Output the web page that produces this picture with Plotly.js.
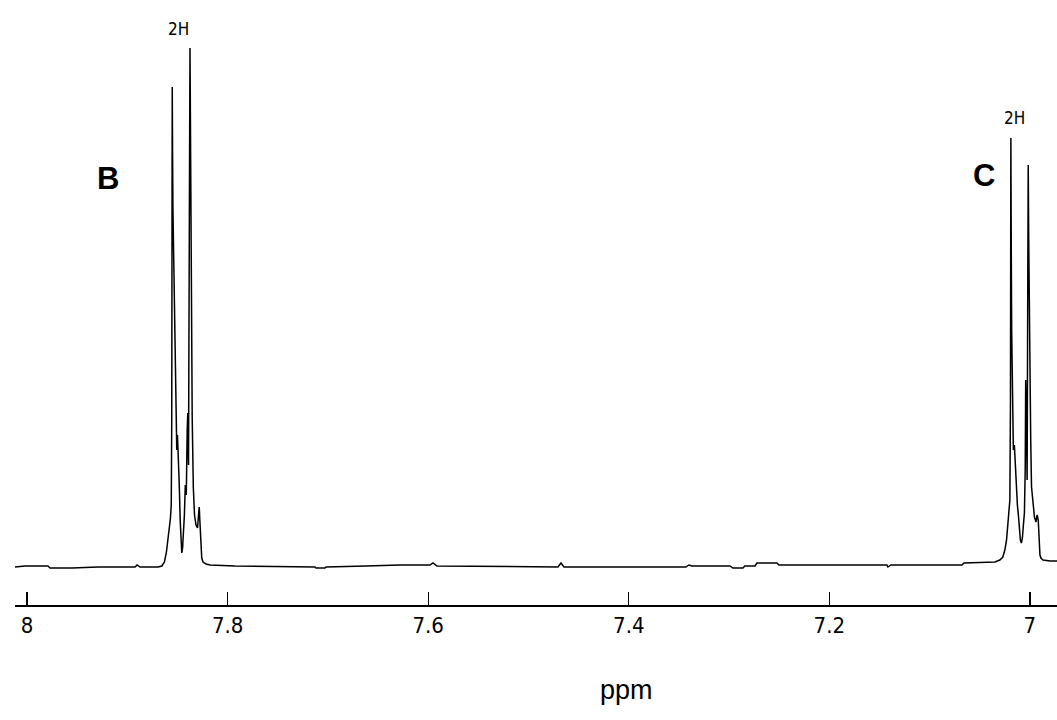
<!DOCTYPE html>
<html>
<head>
<meta charset="utf-8">
<script src="https://cdn.plot.ly/plotly-3.0.1.min.js"></script>
<style>html,body{margin:0;padding:0;background:#fff;}#chart{width:1057px;height:720px;}</style>
</head>
<body>
<div id="chart"></div>
<script>
// chemical shift (ppm) of traced spectrum points
const ppm = [
  8.0120, 8.0020, 7.9791, 7.9771, 7.9551, 7.9292, 7.8923, 7.8903, 7.8873, 7.8694,
  7.8655, 7.8630, 7.8610, 7.8595, 7.8580, 7.8570, 7.8562, 7.8557, 7.8554, 7.8552,
  7.8549, 7.8545, 7.8539, 7.8532, 7.8525, 7.8519, 7.8513, 7.8507, 7.8500, 7.8492,
  7.8482, 7.8473, 7.8465, 7.8457, 7.8449, 7.8441, 7.8431, 7.8422, 7.8412, 7.8403,
  7.8397, 7.8390, 7.8384, 7.8379, 7.8375, 7.8372, 7.8367, 7.8360, 7.8353, 7.8342,
  7.8330, 7.8315, 7.8300, 7.8290, 7.8283, 7.8277, 7.8269, 7.8258, 7.8245, 7.8215,
  7.8175,
  7.7926, 7.7129, 7.7119, 7.7029, 7.7019, 7.6620, 7.6281, 7.5982, 7.5952, 7.5912,
  7.5015, 7.4706, 7.4676, 7.4646, 7.3430, 7.3400, 7.3370, 7.2991, 7.2961, 7.2862,
  7.2842, 7.2742, 7.2722, 7.2523, 7.2503, 7.1426, 7.1416, 7.1386, 7.0678, 7.0658,
  7.0349,
  7.0300, 7.0270, 7.0250, 7.0233, 7.0220, 7.0210, 7.0200, 7.0194, 7.0190, 7.0186,
  7.0182, 7.0178, 7.0172, 7.0165, 7.0155, 7.0145, 7.0135, 7.0125, 7.0115, 7.0105,
  7.0095, 7.0085, 7.0075, 7.0065, 7.0055, 7.0047, 7.0042, 7.0035, 7.0028, 7.0022,
  7.0017, 7.0012, 7.0006, 7.0000, 6.9992, 6.9984, 6.9970, 6.9955, 6.9940, 6.9928,
  6.9917, 6.9910, 6.9900, 6.9890, 6.9870, 6.9800, 6.9730
];
// signal intensity (arbitrary units) at each point
const intensity = [
  0, 1, 1, -1, -1, 0, 0, 2, 0, 0,
  1, 5, 15, 27, 39, 49, 62, 147, 367, 480,
  417, 357, 317, 277, 227, 187, 147, 117, 132, 97,
  82, 47, 22, 14, 19, 32, 52, 82, 72, 137,
  154, 102, 207, 417, 519, 467, 367, 237, 149, 80,
  52, 42, 39, 52, 60, 47, 22, 9, 5, 3,
  2,
  1, 0, -1, -1, 0, 1, 2, 2, 4, 1,
  0, 0, 4, 0, 0, 2, 1, 1, -1, -1,
  1, 1, 4, 4, 2, 2, 0, 2, 2, 4,
  5,
  7, 10, 17, 27, 45, 55, 67, 167, 429, 317,
  237, 200, 147, 117, 122, 97, 77, 62, 52, 37,
  27, 24, 29, 42, 54, 97, 187, 147, 87, 267,
  402, 327, 237, 177, 127, 80, 62, 50, 45, 52,
  47, 22, 12, 9, 7, 6, 6
];
const tickValues = [8, 7.8, 7.6, 7.4, 7.2, 7];
const tickLabels = ['8', '7.8', '7.6', '7.4', '7.2', '7'];
const signalLabels = ['B', 'C'];
const signalLabelPpm = [7.9189, 7.0456];
const signalLabelI = [389, 392];
const integralLabels = ['2H', '2H'];
const integralPpm = [7.8485, 7.0152];
const integralI = [538, 449];

const trace = {
  x: ppm, y: intensity, type: 'scatter', mode: 'lines',
  line: {color: '#000', width: 1.5, shape: 'linear'},
  hoverinfo: 'none'
};

const annotations = [];
for (let i = 0; i < signalLabels.length; i++) {
  annotations.push({x: signalLabelPpm[i], y: signalLabelI[i], xref: 'x', yref: 'y',
    text: '<b>' + signalLabels[i] + '</b>', showarrow: false,
    font: {family: 'Liberation Sans, Arial, sans-serif', size: 31, color: '#000'}});
}
for (let i = 0; i < integralLabels.length; i++) {
  annotations.push({x: integralPpm[i], y: integralI[i], xref: 'x', yref: 'y',
    text: integralLabels[i], showarrow: false,
    font: {family: 'Liberation Sans Narrow, DejaVu Sans Condensed, sans-serif', size: 17, color: '#000'}});
}
annotations.push({x: 0.587, y: -0.1405, xref: 'paper', yref: 'paper', text: 'ppm',
  showarrow: false, yanchor: 'middle',
  font: {family: 'Liberation Sans, Arial, sans-serif', size: 27, color: '#000'}});

const layout = {
  width: 1057, height: 720,
  margin: {l: 15, r: 0, t: 0, b: 115, pad: 0},
  paper_bgcolor: '#fff', plot_bgcolor: '#fff',
  showlegend: false,
  xaxis: {
    range: [8.012, 6.973], showgrid: false, zeroline: false,
    showline: true, linecolor: '#000', linewidth: 1.5,
    ticks: 'inside', ticklen: 13, tickwidth: 1.2, tickcolor: '#000',
    tickmode: 'array', tickvals: tickValues, ticktext: tickLabels,
    tickfont: {family: 'DejaVu Sans Condensed, Liberation Sans Narrow, sans-serif', size: 22, color: '#000'},
    fixedrange: true
  },
  yaxis: {range: [-38, 567], visible: false, fixedrange: true},
  annotations: annotations
};

Plotly.newPlot('chart', [trace], layout, {displayModeBar: false, staticPlot: true});
</script>
</body>
</html>
